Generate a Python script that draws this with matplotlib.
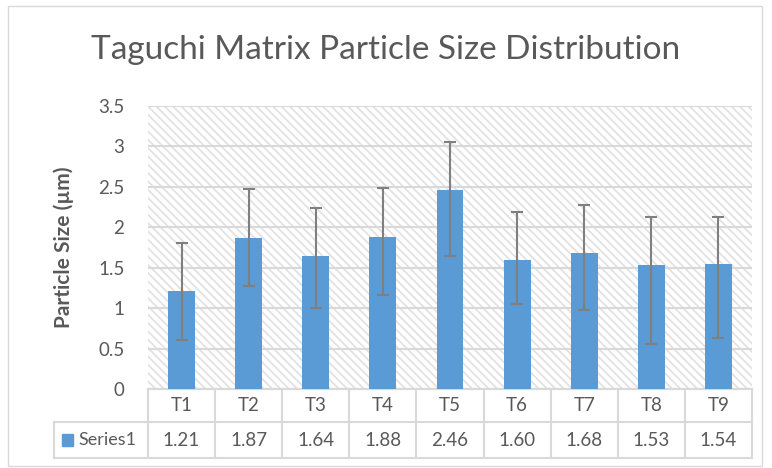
import matplotlib
matplotlib.use("Agg")
import matplotlib.pyplot as plt
from matplotlib.patches import Rectangle
from matplotlib.transforms import blended_transform_factory

plt.rcParams["font.family"] = ["Lato", "DejaVu Sans"]
plt.rcParams["hatch.linewidth"] = 1.3

# Data
trials = ["T1", "T2", "T3", "T4", "T5", "T6", "T7", "T8", "T9"]
sizes = [1.21, 1.87, 1.64, 1.88, 2.46, 1.60, 1.68, 1.53, 1.54]
err_low = [0.60, 0.60, 0.64, 0.72, 0.81, 0.55, 0.70, 0.97, 0.91]
err_high = [0.60, 0.60, 0.60, 0.60, 0.59, 0.59, 0.60, 0.60, 0.59]
series_name = "Series1"

text_col = "#595959"
grid_col = "#d9d9d9"
bar_col = "#5b9bd5"

W, H = 772, 468
fig = plt.figure(figsize=(W / 100, H / 100), dpi=100)

# outer chart border
fig.patches.append(Rectangle((8 / W, 1 - 466 / H), 754 / W, 460 / H,
                             transform=fig.transFigure, fill=False,
                             edgecolor=grid_col, linewidth=1.0))

left, right, top, bottom = 148, 752, 106, 389
ax = fig.add_axes([left / W, 1 - bottom / H, (right - left) / W, (bottom - top) / H])

# hatched plot background
ax.add_patch(Rectangle((0, 0), 1, 1, transform=ax.transAxes, facecolor="white",
                       edgecolor="#e2e2e2", linewidth=0, hatch="\\\\\\\\", zorder=0))

x = list(range(len(trials)))
ax.bar(x, sizes, width=0.4, color=bar_col, zorder=3)
ax.errorbar(x, sizes, yerr=[err_low, err_high], fmt="none", ecolor="#7f7f7f",
            elinewidth=1.5, capsize=4.3, capthick=1.5, zorder=4)

ax.set_xlim(-0.5, len(trials) - 0.5)
ax.set_ylim(0, 3.5)
ax.set_yticks([0, 0.5, 1, 1.5, 2, 2.5, 3, 3.5])
ax.set_yticklabels(["0", "0.5", "1", "1.5", "2", "2.5", "3", "3.5"])
ax.yaxis.grid(True, color=grid_col, linewidth=1.5)
for ln in ax.get_ygridlines():
    ln.set_zorder(1)
ax.tick_params(axis="y", length=0, pad=17, labelsize=13.5, labelcolor=text_col)
ax.set_xticks([])
for s in ["left", "right", "top"]:
    ax.spines[s].set_visible(False)
ax.spines["bottom"].set_color(grid_col)
ax.spines["bottom"].set_linewidth(1.5)

ax.set_ylabel("Particle Size (µm)", fontsize=15, fontweight="bold", color=text_col, labelpad=17)

fig.text(0.5, 1 - 50 / H, "Taguchi Matrix Particle Size Distribution", ha="center",
         va="center", fontsize=24, color=text_col)

# data table under the plot
tr = blended_transform_factory(ax.transData, ax.transAxes)
ph = bottom - top
y_head = -(422 - bottom) / ph
y_end = -(458 - bottom) / ph
x_key = (54 - left) / ((right - left) / len(trials)) - 0.5
lkw = dict(color=grid_col, linewidth=1.5, transform=tr, clip_on=False)
ax.plot([-0.5, len(trials) - 0.5], [0, 0], **lkw)
ax.plot([x_key, len(trials) - 0.5], [y_head, y_head], **lkw)
ax.plot([x_key, len(trials) - 0.5], [y_end, y_end], **lkw)
ax.plot([x_key, x_key], [y_head, y_end], **lkw)
for i in range(len(trials) + 1):
    ax.plot([i - 0.5, i - 0.5], [0, y_end], **lkw)
for i, (t, v) in enumerate(zip(trials, sizes)):
    ax.text(i, y_head / 2, t, transform=tr, ha="center", va="center",
            fontsize=13.5, color=text_col)
    ax.text(i, (y_head + y_end) / 2, f"{v:.2f}", transform=tr, ha="center",
            va="center", fontsize=13.5, color=text_col)
ax.add_patch(Rectangle((x_key + 0.12, (y_head + y_end) / 2 - 0.022), 0.17, 0.044,
                       transform=tr, color=bar_col, clip_on=False))
ax.text(x_key + 0.36, (y_head + y_end) / 2, series_name, transform=tr, ha="left",
        va="center", fontsize=13, color=text_col)

fig.savefig("out.png", dpi=100)
